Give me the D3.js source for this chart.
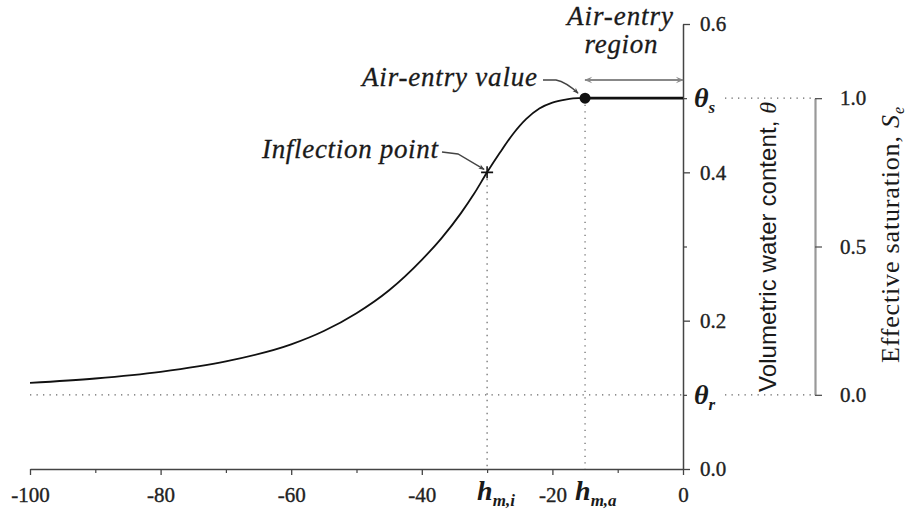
<!DOCTYPE html>
<html><head><meta charset="utf-8">
<script src="https://cdn.jsdelivr.net/npm/d3@7"></script>
<style>
html,body{margin:0;padding:0;background:#fff;}
svg{display:block;}
.serif{font-family:"Liberation Serif","Times New Roman",serif;}
.sans{font-family:"Liberation Sans",Arial,sans-serif;}
</style></head>
<body>
<svg id="chart" width="906" height="517"></svg>
<script>
// Retention curve: pressure head h and volumetric water content θ
const headValues  = [-100, -90, -80, -70, -60, -55, -50, -45, -40, -37, -34, -32, -30, -28, -26, -24, -22, -20, -18, -16, -15, 0];
const thetaValues = [0.116, 0.122, 0.131, 0.145, 0.168, 0.186, 0.210, 0.241, 0.282, 0.311, 0.345, 0.371, 0.400, 0.427, 0.452, 0.472, 0.486, 0.494, 0.498, 0.500, 0.500, 0.500];

// Characteristic points
const thetaR = 0.1, thetaS = 0.5;
const hInflection = -30, thetaInflection = 0.4;
const hAirEntry = -15;

// Axis ticks
const headTicks = [-100, -80, -60, -40, -20, 0];
const headMinorTicks = [-90, -70, -50, -30, -10];
const thetaTicks = [0, 0.2, 0.4, 0.6];
const thetaMinorTicks = [0.1, 0.3, 0.5];
const seTicks = [0, 0.5, 1];
const headSymbols = [{h: -30, sub: "m,i"}, {h: -15, sub: "m,a"}];

const svg = d3.select("#chart");
const ink = "#1a1a1a", axisInk = "#444";

const x = d3.scaleLinear().domain([-100, 0]).range([30, 683]);
const y = d3.scaleLinear().domain([0, 0.6]).range([469, 24]);
const se = d3.scaleLinear().domain([0, 1]).range([y(thetaR), y(thetaS)]);
const seAxisX = 815, symbolGap = 42;

// markers
const defs = svg.append("defs");
defs.append("marker").attr("id", "arrow").attr("viewBox", "0 0 10 10")
  .attr("refX", 9).attr("refY", 5).attr("markerWidth", 9).attr("markerHeight", 6)
  .attr("markerUnits", "userSpaceOnUse").attr("orient", "auto-start-reverse")
  .append("path").attr("d", "M0,1 L10,5 L0,9 L3,5 Z").attr("fill", "#444");
defs.append("marker").attr("id", "arrowWide").attr("viewBox", "0 0 10 10")
  .attr("refX", 9).attr("refY", 5).attr("markerWidth", 14).attr("markerHeight", 8)
  .attr("markerUnits", "userSpaceOnUse").attr("orient", "auto-start-reverse")
  .append("path").attr("d", "M0,1 L10,5 L0,9 L4,5 Z").attr("fill", "#888");

// dotted guides
const dotted = g => g.attr("stroke", "#666").attr("stroke-width", 1.2)
  .attr("stroke-dasharray", "1.3,5.2").attr("fill", "none");
svg.append("line").call(dotted)
  .attr("x1", x(-100)).attr("x2", x(0)).attr("y1", y(thetaR)).attr("y2", y(thetaR));
[thetaR, thetaS].forEach(t => {
  svg.append("line").call(dotted)
    .attr("x1", x(0) + symbolGap).attr("x2", seAxisX).attr("y1", y(t)).attr("y2", y(t));
});
svg.append("line").call(dotted)
  .attr("x1", x(hInflection)).attr("x2", x(hInflection)).attr("y1", y(thetaInflection)).attr("y2", y(0));
svg.append("line").call(dotted)
  .attr("x1", x(hAirEntry)).attr("x2", x(hAirEntry)).attr("y1", y(thetaS)).attr("y2", y(0));

// shared axis styling
const styleAxis = (g, color) => {
  g.attr("font-family", null).attr("font-size", null).classed("serif", true);
  g.selectAll("path.domain").attr("stroke", color).attr("stroke-width", 1.5);
  g.selectAll(".tick line").attr("stroke", color).attr("stroke-width", 1.3);
  g.selectAll("text").attr("fill", "#222").attr("stroke", "#222").attr("stroke-width", 0.35)
    .style("font-size", "21px");
};

// bottom axis
svg.append("g").attr("transform", `translate(0,${y(0)})`)
  .call(d3.axisBottom(x).tickValues(headTicks).tickSize(6).tickSizeOuter(0).tickPadding(12)
    .tickFormat(d => String(d)))
  .call(g => styleAxis(g, axisInk));
svg.append("g").attr("transform", `translate(0,${y(0)})`)
  .call(d3.axisBottom(x).tickValues(headMinorTicks).tickSize(4).tickFormat(""))
  .call(g => g.select(".domain").remove())
  .call(g => g.selectAll(".tick line").attr("stroke", axisInk).attr("stroke-width", 1.2));

// h symbols under the axis
headSymbols.forEach(s => {
  const t = svg.append("text").attr("class", "serif").attr("x", x(s.h) - 10).attr("y", 500)
    .attr("font-style", "italic").attr("font-weight", "bold").attr("fill", ink);
  t.append("tspan").style("font-size", "28px").text("h");
  t.append("tspan").style("font-size", "17px").attr("dy", 6).text(s.sub);
});

// θ axis
svg.append("g").attr("transform", `translate(${x(0)},0)`)
  .call(d3.axisRight(y).tickValues(thetaTicks).tickSize(7).tickSizeOuter(0).tickPadding(10)
    .tickFormat(d3.format(".1f")))
  .call(g => styleAxis(g, axisInk))
  .call(g => g.selectAll("text").attr("text-anchor", "start"));
svg.append("g").attr("transform", `translate(${x(0)},0)`)
  .call(d3.axisRight(y).tickValues(thetaMinorTicks).tickSize(4).tickFormat(""))
  .call(g => g.select(".domain").remove())
  .call(g => g.selectAll(".tick line").attr("stroke", axisInk).attr("stroke-width", 1.2));

// θs and θr symbols
[{t: thetaS, sub: "s"}, {t: thetaR, sub: "r"}].forEach(s => {
  const t = svg.append("text").attr("class", "serif").attr("x", x(0) + 11).attr("y", y(s.t) + 9)
    .attr("font-style", "italic").attr("font-weight", "bold").attr("fill", ink);
  t.append("tspan").style("font-size", "28px").text("θ");
  t.append("tspan").style("font-size", "17px").attr("dy", 6).text(s.sub);
});

// effective saturation axis
svg.append("g").attr("transform", `translate(${seAxisX},0)`)
  .call(d3.axisRight(se).tickValues(seTicks).tickSize(7).tickSizeOuter(0).tickPadding(18)
    .tickFormat(d3.format(".1f")))
  .call(g => styleAxis(g, "#999"))
  .call(g => g.select(".domain").attr("stroke-width", 2.2))
  .call(g => g.selectAll(".tick line").attr("stroke", "#555"))
  .call(g => g.selectAll("text").attr("text-anchor", "start"));

// axis titles
const vt = svg.append("text").attr("class", "sans").attr("transform", "translate(776,247) rotate(-90)")
  .attr("text-anchor", "middle").style("font-size", "24px").attr("fill", ink)
  .attr("textLength", 290).attr("lengthAdjust", "spacing");
vt.append("tspan").text("Volumetric water content, ");
vt.append("tspan").attr("class", "serif").attr("font-style", "italic").text("θ");

const et = svg.append("text").attr("class", "serif").attr("transform", "translate(899,235) rotate(-90)")
  .attr("text-anchor", "middle").style("font-size", "26px").attr("fill", ink)
  .attr("textLength", 256).attr("lengthAdjust", "spacing");
et.append("tspan").text("Effective saturation, ");
et.append("tspan").attr("font-style", "italic").text("S");
et.append("tspan").attr("font-style", "italic").style("font-size", "16px").attr("dy", 5).text("e");

// retention curve
const line = d3.line().x((d, i) => x(headValues[i])).y(d => y(d)).curve(d3.curveMonotoneX);
svg.append("path").datum(thetaValues).attr("d", line)
  .attr("fill", "none").attr("stroke", "#111").attr("stroke-width", 1.8);
const iA = headValues.indexOf(hAirEntry);
svg.append("path").datum(thetaValues.slice(iA))
  .attr("d", d3.line().x((d, i) => x(headValues[iA + i])).y(d => y(d)))
  .attr("fill", "none").attr("stroke", "#111").attr("stroke-width", 2.6);

// air-entry point and inflection marker
svg.append("circle").attr("cx", x(hAirEntry)).attr("cy", y(thetaS)).attr("r", 5.5).attr("fill", "#111");
const ix = x(hInflection), iy = y(thetaInflection);
svg.append("path").attr("d", `M${ix - 6},${iy}H${ix + 6}M${ix},${iy - 6}V${iy + 6}`)
  .attr("stroke", "#111").attr("stroke-width", 1.6);

// annotations
const note = (txt, xx, yy, len, anchor) => svg.append("text").attr("class", "serif")
  .attr("x", xx).attr("y", yy).attr("text-anchor", anchor || "start")
  .attr("font-style", "italic").style("font-size", "27px").attr("fill", ink)
  .attr("stroke", ink).attr("stroke-width", 0.3)
  .attr("textLength", len).attr("lengthAdjust", "spacing").text(txt);
note("Air-entry value", 362, 86, 175);
note("Inflection point", 262, 158, 176);
note("Air-entry", 620, 25, 106, "middle");
note("region", 621, 53, 73, "middle");

svg.append("path").attr("d", `M543,80 L556,80 Q566,82 ${x(hAirEntry) - 7},${y(thetaS) - 5}`)
  .attr("fill", "none").attr("stroke", "#444").attr("stroke-width", 1.4).attr("marker-end", "url(#arrow)");
svg.append("path").attr("d", `M442,152 L458,154 L${ix - 3},${iy - 3}`)
  .attr("fill", "none").attr("stroke", "#444").attr("stroke-width", 1.4).attr("marker-end", "url(#arrow)");
svg.append("line").attr("x1", x(hAirEntry)).attr("x2", x(0)).attr("y1", 80).attr("y2", 80)
  .attr("stroke", "#888").attr("stroke-width", 1.8)
  .attr("marker-start", "url(#arrowWide)").attr("marker-end", "url(#arrowWide)");
</script>
</body></html>
